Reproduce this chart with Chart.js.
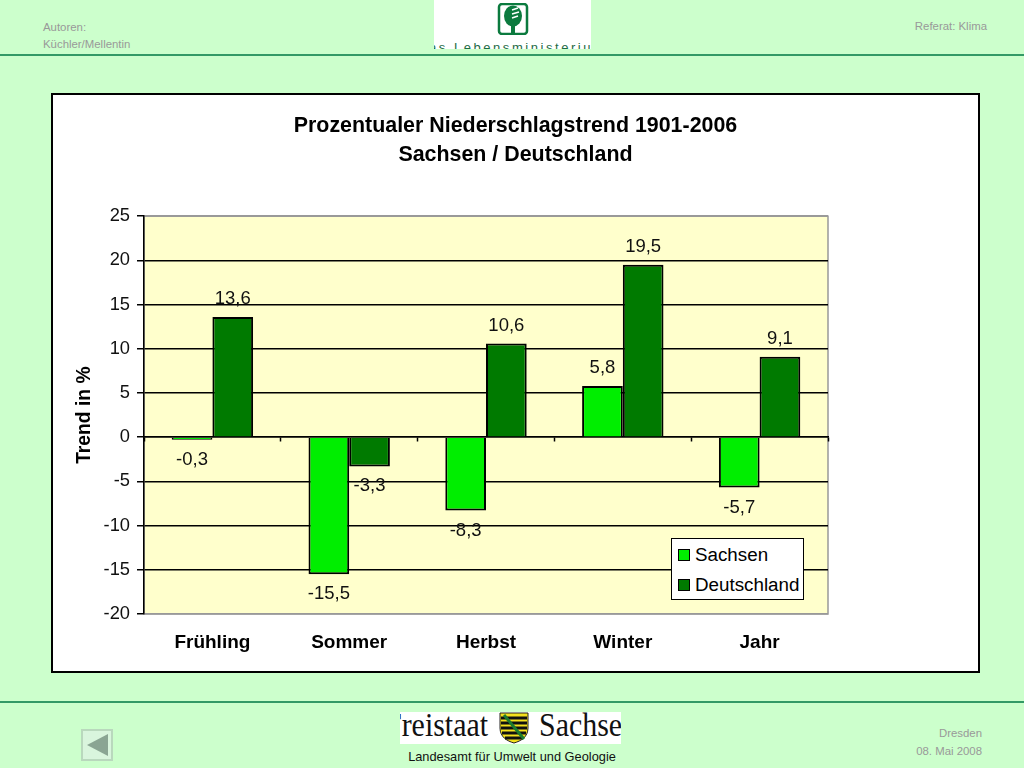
<!DOCTYPE html>
<html lang="de">
<head>
<meta charset="utf-8">
<title>Niederschlagstrend</title>
<script src="https://cdn.jsdelivr.net/npm/chart.js@4/dist/chart.umd.js"></script>
<style>
html, body { margin: 0; padding: 0; width: 1024px; height: 768px; overflow: hidden; background: #ccffcc; font-family: "Liberation Sans", Arial, sans-serif; }
.abs { position: absolute; white-space: nowrap; }
.small { font-size: 11.4px; color: #999999; line-height: 14px; }
.rule { position: absolute; left: 0; width: 1024px; height: 2px; background: #339966; }
#box { position: absolute; left: 51px; top: 93px; width: 929px; height: 580px; box-sizing: border-box; border: 2px solid #000; background: #fff; }
#myChart { position: absolute; left: 52px; top: 94px; }
#legend { position: absolute; left: 671px; top: 538px; width: 133px; height: 62px; box-sizing: border-box; border: 1.5px solid #000; background: #fff; font-size: 18.8px; color: #000; }
#legend div { position: absolute; left: 6px; height: 30px; line-height: 30px; white-space: nowrap; }
#legend i { display: inline-block; width: 10px; height: 10px; border: 1.5px solid #000; margin-right: 5px; }
#logoTop { position: absolute; left: 434px; top: 0; width: 157px; height: 49px; background: #fff; overflow: hidden; }
#logoBottom { position: absolute; left: 400px; top: 712px; width: 221px; height: 32px; background: #fff; overflow: hidden; }
</style>
</head>
<body>
<div class="abs small" style="left:43px;top:20px">Autoren:</div>
<div class="abs small" style="left:43px;top:37px">Küchler/Mellentin</div>
<div class="abs small" style="right:37px;top:19px">Referat: Klima</div>
<div id="logoTop">
  <svg class="abs" style="left:63px;top:3px" width="32" height="32" viewBox="0 0 32 32">
    <rect x="2" y="1" width="28" height="30" rx="3" fill="#fff" stroke="#0b7a3e" stroke-width="2.5"/>
    <ellipse cx="16" cy="13" rx="9" ry="10.5" fill="#0b7a3e"/>
    <rect x="14" y="20" width="4" height="11" fill="#0b7a3e"/>
    <path d="M15 7l6-2M15 11l7-2M15 15l6-2" stroke="#fff" stroke-width="1.4"/>
  </svg>
  <div class="abs" style="left:-17px;top:40px;font-size:13px;letter-spacing:2.55px;color:#1d6b45">Das Lebensministerium</div>
</div>
<div class="rule" style="top:54px"></div>
<div id="box"></div>
<canvas id="myChart" width="927" height="578" style="width:927px;height:578px"></canvas>
<div id="legend"></div>
<div class="rule" style="top:701px"></div>
<div id="logoBottom">
  <div class="abs" style="left:-15px;top:-6px;font-family:'Liberation Serif',serif;font-size:34px;color:#111;transform:scaleX(.88);transform-origin:left top">Freistaat</div>
  <svg class="abs" style="left:99px;top:0" width="30" height="32" viewBox="0 0 30 32">
    <path d="M1 1h28v15c0 9-7 13-14 15C8 29 1 25 1 16z" fill="#f4e01c" stroke="#222"/>
    <path d="M2 6h26M2 11h26M2 16h26M3 21h24M6 26h18" stroke="#111" stroke-width="3"/>
    <path d="M5 3L25 27" stroke="#1d7a2e" stroke-width="3"/>
  </svg>
  <div class="abs" style="left:139px;top:-6px;font-family:'Liberation Serif',serif;font-size:34px;color:#111;transform:scaleX(.88);transform-origin:left top">Sachsen</div>
</div>
<div class="abs" style="left:0;width:1024px;text-align:center;top:749px;font-size:12.8px;color:#111;line-height:15px">Landesamt für Umwelt und Geologie</div>
<div class="abs small" style="right:42px;top:726px">Dresden</div>
<div class="abs small" style="right:42px;top:744px">08. Mai 2008</div>
<svg class="abs" style="left:81px;top:729px" width="32" height="32" viewBox="0 0 32 32">
  <rect x="1" y="1" width="30" height="30" fill="#d9f5dd" stroke="#b9d8bd" stroke-width="2"/>
  <path d="M27 5V27L6 16z" fill="#8aa593"/>
</svg>

<script>
const categories = ['Frühling', 'Sommer', 'Herbst', 'Winter', 'Jahr'];
const sachsenValues = [-0.3, -15.5, -8.3, 5.8, -5.7];
const deutschlandValues = [13.6, -3.3, 10.6, 19.5, 9.1];
const seriesNames = ['Sachsen', 'Deutschland'];
const seriesColors = ['#00ee00', '#007a00'];
const titleLines = ['Prozentualer Niederschlagstrend 1901-2006', 'Sachsen / Deutschland'];
const yAxisLabel = 'Trend in %';
const fontName = '"Liberation Sans", Arial, sans-serif';

// plot background and grey frame, like the Excel plot area
const plotFrame = {
    id: 'plotFrame',
    beforeDraw(chart) {
        const a = chart.chartArea;
        const c = chart.ctx;
        c.save();
        c.fillStyle = '#ffffcc';
        c.fillRect(a.left, a.top, a.width, a.height);
        c.strokeStyle = '#999999';
        c.lineWidth = 1.5;
        c.strokeRect(a.left, a.top, a.width, a.height);
        c.restore();
    }
};

// value labels above/below each bar with a decimal comma
const barLabels = {
    id: 'barLabels',
    afterDatasetsDraw(chart) {
        const c = chart.ctx;
        c.save();
        c.font = '18.5px ' + fontName;
        c.fillStyle = '#111';
        c.textAlign = 'center';
        c.textBaseline = 'middle';
        chart.data.datasets.forEach((ds, i) => {
            chart.getDatasetMeta(i).data.forEach((bar, j) => {
                const v = ds.data[j];
                const y = v < 0 ? bar.y + 20 : bar.y - 18;
                c.fillText(String(v).replace('.', ','), bar.x, y);
            });
        });
        c.restore();
    }
};

const ctx = document.getElementById('myChart');

const chart = new Chart(ctx, {
    type: 'bar',
    data: {
        labels: categories,
        datasets: [{
            label: seriesNames[0],
            data: sachsenValues,
            backgroundColor: seriesColors[0],
            borderColor: '#000',
            borderWidth: 2,
            xAxisID: 'x',
            yAxisID: 'y'
        }, {
            label: seriesNames[1],
            data: deutschlandValues,
            backgroundColor: seriesColors[1],
            borderColor: '#000',
            borderWidth: 2,
            xAxisID: 'x',
            yAxisID: 'y'
        }]
    },
    plugins: [plotFrame, barLabels],
    options: {
        responsive: false,
        animation: false,
        devicePixelRatio: 1,
        barPercentage: 1,
        categoryPercentage: 0.595,
        plugins: {
            legend: { display: false },
            tooltip: { enabled: false },
            title: {
                display: true,
                text: titleLines,
                color: '#000',
                font: { family: fontName, size: 21.4, weight: 'bold', lineHeight: 1.33 },
                padding: { top: 18, bottom: 47.3 }
            }
        },
        scales: {
            x: {
                type: 'category',
                position: 'bottom',
                afterFit: s => { s.height = 58; },
                grid: { display: false },
                border: { display: false },
                ticks: {
                    color: '#000',
                    padding: 9,
                    maxRotation: 0,
                    font: { family: fontName, size: 19, weight: 'bold' }
                }
            },
            // zero line with the small category ticks, the labels stay at the bottom
            x2: {
                type: 'category',
                labels: categories,
                axis: 'x',
                position: { y: 0 },
                grid: { drawOnChartArea: false, offset: true, tickLength: 4, tickColor: '#000', tickWidth: 1.5 },
                border: { display: true, color: '#000', width: 1.5 },
                ticks: { display: false }
            },
            y: {
                min: -20,
                max: 25,
                afterFit: s => { s.width = 92; },
                grid: {
                    color: c => (c.tick && (c.tick.value === 25 || c.tick.value === -20)) ? '#999999' : '#000',
                    lineWidth: 1.5,
                    tickLength: 7,
                    tickColor: '#000'
                },
                border: { color: '#000', width: 1.5 },
                title: {
                    display: true,
                    text: yAxisLabel,
                    color: '#000',
                    font: { family: fontName, size: 19.3, weight: 'bold' },
                    padding: { top: 21, bottom: 0 }
                },
                ticks: {
                    stepSize: 5,
                    color: '#111',
                    padding: 7,
                    font: { family: fontName, size: 18.3 }
                }
            },
            // empty axis that keeps the white space right of the plot, the title stays centred on the box
            yRight: {
                position: 'right',
                grid: { display: false },
                border: { display: false },
                ticks: { display: false },
                afterFit: s => { s.width = 151; }
            }
        }
    }
});

// legend box over the plot, entries taken from the chart's datasets
const legendBox = document.getElementById('legend');
chart.data.datasets.forEach((ds, i) => {
    const row = document.createElement('div');
    row.style.top = (i * 30 + 1) + 'px';
    const swatch = document.createElement('i');
    swatch.style.background = ds.backgroundColor;
    row.appendChild(swatch);
    row.appendChild(document.createTextNode(ds.label));
    legendBox.appendChild(row);
});
</script>
</body>
</html>
